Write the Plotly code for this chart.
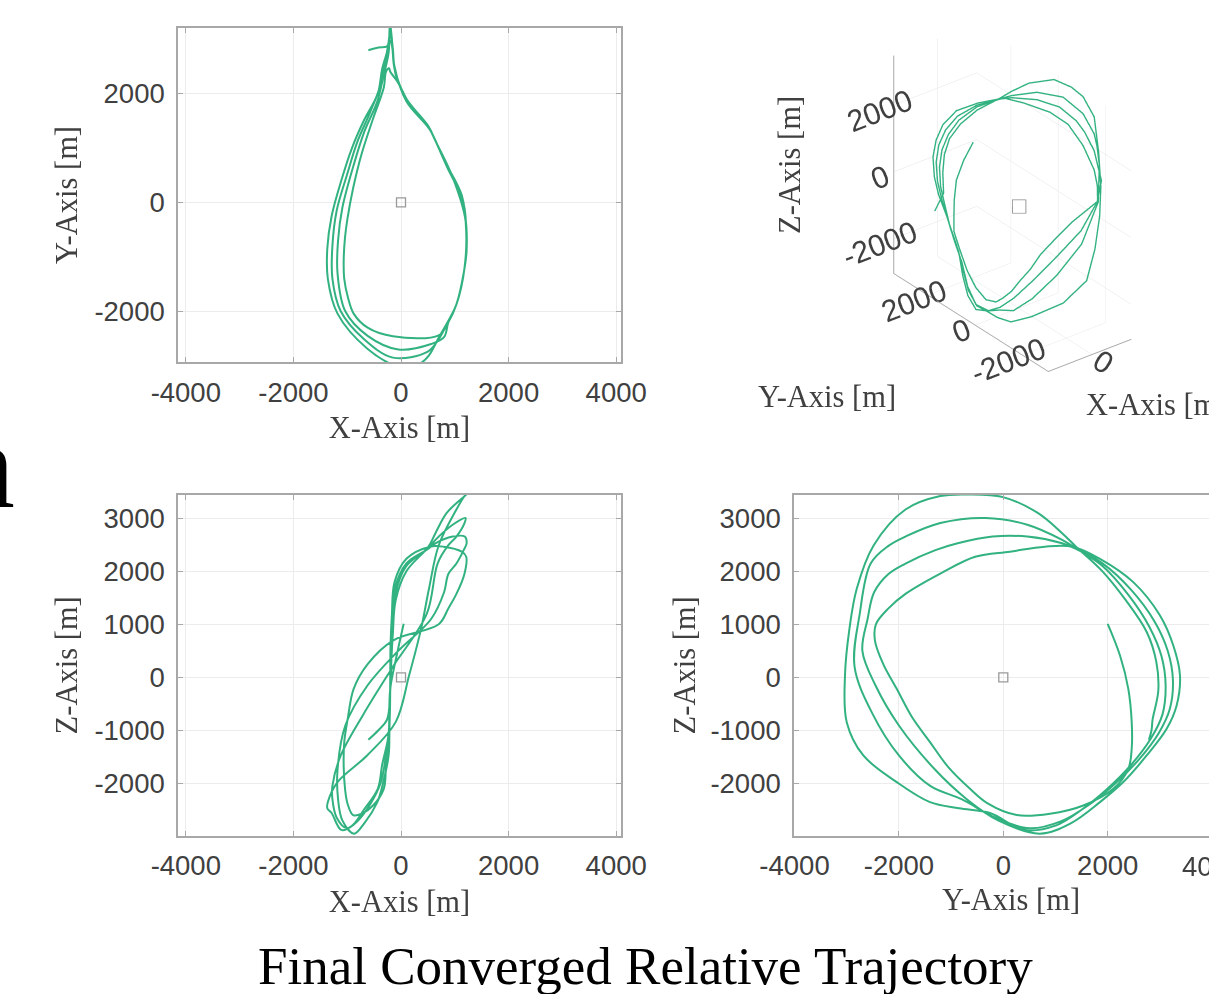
import plotly.graph_objects as go

# Relative trajectory samples (metres), read from the four views
traj_x = [50, -80, -200, -220, -230, -280, -320, -520, -730, -890, -995, -1040, -1065, -1055, -985, -880, -620, -150,
          700, 880, 1030, 1180, 1212, 1130, 790, 540,
          100, -120, -170, -195, -200, -205, -215, -230, -330, -440, -680, -875, -1090, -1170, -1180, -1035, -620, -50,
          560, 800, 880, 1030, 1165, 1220, 1185, 960, 640, 500,
          100, -120, -160, -190, -200, -205, -225, -290, -380, -575, -815, -1005, -1195, -1275, -1275, -1120, -700, -150,
          480, 680, 870, 1030, 1180, 1200, 960, 640, 510,
          100, -110, -150, -180, -200, -210, -240, -350, -430, -690, -910, -1110, -1290, -1370, -1360, -1180, -630, -100,
          150, 370, 520, 700, 1030, 1180, 1215, 1160, 850, 640, 510,
          100, -100, -150, -180, -200, -260, -421, -607]
traj_y = [2000, 2236, 2395, 2460, 2460, 2395, 2107, 1533, 895, 257, -300, -638, -1050, -1404, -1750, -2042, -2300, -2459,
          -2441, -2200, -1874, -1207, -540, 127, 794, 1327,
          1852, 2490, 3002, 3257, 3385, 3321, 3130, 2747, 2299, 1852, 1300, 700, -100, -700, -1300, -2000, -2450, -2700,
          -2600, -2475, -2200, -1874, -1300, -874, -207, 460, 1127, 1400,
          1900, 2450, 2900, 3150, 3250, 3190, 2980, 2600, 2150, 1650, 1100, 500, -150, -800, -1400, -2000, -2500, -2850,
          -2750, -2541, -2200, -1874, -1207, -340, 460, 1127, 1394,
          1900, 2400, 2800, 3030, 3110, 3050, 2830, 2450, 2000, 1500, 1000, 400, -255, -850, -1404, -2042, -2682, -3000,
          -3033, -2950, -2808, -2485, -1874, -1207, -674, -7, 660, 1127, 1394,
          1900, 2350, 2750, 2930, 2970, 2860, 2840, 2790]
traj_z = [1009, 411, -217, -845, -1349, -1726, -2104, -2419, -2575, -2600, -2380, -2104, -1700, -1223, -750, -217, 250, 694,
          1000, 1300, 1573, 1956, 2274, 2370, 2465, 2465,
          2236, 1796, 1166, 600, 34, -532, -972, -1475, -1977, -2355, -2750, -2950, -2700, -2300, -1750, -910, -150, 500,
          1100, 1605, 1950, 2147, 2400, 2529, 2656, 2656, 2529, 2420,
          2150, 1650, 1050, 500, -50, -600, -1050, -1550, -2000, -2400, -2720, -2850, -2650, -2300, -2050, -1475, -700, 200,
          1200, 2147, 2480, 2656, 2911, 3007, 2879, 2593, 2433,
          2100, 1550, 950, 400, -150, -700, -1150, -1650, -2100, -2500, -2800, -2880, -2560, -2470, -2355, -1977, -1475, -846,
          34, 900, 1670, 2487, 3166, 3420, 3450, 3400, 3102, 2720, 2465,
          2000, 1450, 850, 300, -250, -800, -1000, -1180]

target_pos = [0]

h_ticks = [-4000, -2000, 0, 2000, 4000]
h_tick_text = ["-4000", "-2000", "0", "2000", "4000"]
xy_y_ticks = [-2000, 0, 2000]
xy_y_tick_text = ["-2000", "0", "2000"]
z_ticks = [-2000, -1000, 0, 1000, 2000, 3000]
z_tick_text = ["-2000", "-1000", "0", "1000", "2000", "3000"]
s3_ticks = [-2000, 0, 2000]
s3_tick_text = ["-2000", "0", "2000"]
s3_x_ticks = [0]
s3_x_tick_text = ["0"]

GREEN = "rgb(50,178,128)"
AXC = "#a8a8a8"
TXT = "#404040"
TICKFONT = dict(family="Liberation Sans", size=27.5, color=TXT)
TITLEFONT = dict(family="Liberation Serif", size=30.5, color=TXT)

W, H = 1209, 994


def px_x(p):
    return p / W


def px_y(p):
    return 1 - p / H


def ax2d(**kw):
    d = dict(showline=True, linecolor=AXC, linewidth=1.5, mirror="ticks",
             ticks="inside", ticklen=5, tickcolor=AXC, tickwidth=1.2,
             showgrid=True, gridcolor="#ececec", gridwidth=1, zeroline=False,
             tickfont=TICKFONT, title_font=TITLEFONT, automargin=False,
             fixedrange=True)
    d.update(kw)
    return d


fig = go.Figure()

# XY view
fig.add_trace(go.Scatter(x=traj_x, y=traj_y, mode="lines",
                         line=dict(color=GREEN, width=2.0, shape="spline"),
                         xaxis="x", yaxis="y"))
fig.add_trace(go.Scatter(x=target_pos, y=target_pos, mode="markers",
                         marker=dict(symbol="square-open", size=9, color="#9a9a9a",
                                     line=dict(width=1.3)),
                         xaxis="x", yaxis="y"))
# XZ view
fig.add_trace(go.Scatter(x=traj_x, y=traj_z, mode="lines",
                         line=dict(color=GREEN, width=2.0, shape="spline"),
                         xaxis="x2", yaxis="y2"))
fig.add_trace(go.Scatter(x=target_pos, y=target_pos, mode="markers",
                         marker=dict(symbol="square-open", size=9, color="#9a9a9a",
                                     line=dict(width=1.3)),
                         xaxis="x2", yaxis="y2"))
# YZ view
fig.add_trace(go.Scatter(x=traj_y, y=traj_z, mode="lines",
                         line=dict(color=GREEN, width=2.0, shape="spline"),
                         xaxis="x3", yaxis="y3"))
fig.add_trace(go.Scatter(x=target_pos, y=target_pos, mode="markers",
                         marker=dict(symbol="square-open", size=9, color="#9a9a9a",
                                     line=dict(width=1.3)),
                         xaxis="x3", yaxis="y3"))
# 3D view
fig.add_trace(go.Scatter3d(x=traj_x, y=traj_y, z=traj_z, mode="lines",
                           line=dict(color=GREEN, width=2.8), scene="scene"))
fig.add_trace(go.Scatter3d(x=target_pos, y=target_pos, z=target_pos, mode="markers",
                           marker=dict(symbol="square-open", size=6, color="#9a9a9a"),
                           scene="scene"))

ax3 = dict(showbackground=False, gridcolor="#e4e4e4", gridwidth=1, showline=True,
           linecolor=AXC, linewidth=2, zeroline=False, showspikes=False,
           tickfont=dict(family="Liberation Sans", size=19, color=TXT),
           title=dict(text=""))

S3 = 1.27

fig.update_layout(
    width=W, height=H, margin=dict(l=0, r=0, t=0, b=0),
    paper_bgcolor="white", plot_bgcolor="white", showlegend=False,
    xaxis=ax2d(domain=[px_x(178), px_x(621)], range=[-4145, 4089], anchor="y",
               tickvals=h_ticks, ticktext=h_tick_text, ticklabelstandoff=5,
               title=dict(text="X-Axis [m]", standoff=10)),
    yaxis=ax2d(domain=[px_y(362), px_y(28)], range=[-2930, 3198], anchor="x",
               tickvals=xy_y_ticks, ticktext=xy_y_tick_text, ticklabelstandoff=6,
               title=dict(text="Y-Axis [m]", standoff=8)),
    xaxis2=ax2d(domain=[px_x(178), px_x(621)], range=[-4145, 4089], anchor="y2",
                tickvals=h_ticks, ticktext=h_tick_text, ticklabelstandoff=5,
                title=dict(text="X-Axis [m]", standoff=10)),
    yaxis2=ax2d(domain=[px_y(835.7), px_y(495)], range=[-2989, 3440], anchor="x2",
                tickvals=z_ticks, ticktext=z_tick_text, ticklabelstandoff=6,
                title=dict(text="Z-Axis [m]", standoff=8)),
    xaxis3=ax2d(domain=[px_x(794), 1.0], range=[-4010, 3941], anchor="y3",
                tickvals=h_ticks, ticktext=h_tick_text, ticklabelstandoff=5),
    yaxis3=ax2d(domain=[px_y(835.7), px_y(495)], range=[-2989, 3440], anchor="x3",
                mirror=False,
                tickvals=z_ticks, ticktext=z_tick_text, ticklabelstandoff=6,
                title=dict(text="Z-Axis [m]", standoff=6)),
    scene=dict(
        domain=dict(x=[px_x(816), 1.0], y=[px_y(395), 1.0]),
        xaxis=dict(ax3, range=[-1450, 1300], tickvals=s3_x_ticks, ticktext=s3_x_tick_text),
        yaxis=dict(ax3, range=[-3100, 3450], tickvals=s3_ticks, ticktext=s3_tick_text),
        zaxis=dict(ax3, range=[-3050, 3480], tickvals=s3_ticks, ticktext=s3_tick_text),
        aspectmode="manual", aspectratio=dict(x=0.42 * S3, y=1.0 * S3, z=1.0 * S3),
        camera=dict(eye=dict(x=-0.535 * 2.0, y=-0.684 * 2.0, z=0.496 * 2.0),
                    up=dict(x=0, y=0, z=1), center=dict(x=0, y=0, z=0),
                    projection=dict(type="orthographic")),
        bgcolor="white"),
    annotations=[
        dict(text="Y-Axis [m]", xref="paper", yref="paper", x=px_x(1011), y=px_y(900),
             xanchor="center", yanchor="middle", showarrow=False, font=TITLEFONT),
        dict(text="4000", xref="paper", yref="paper", x=px_x(1212), y=px_y(866),
             xanchor="center", yanchor="middle", showarrow=False, font=TICKFONT),
        dict(text="Z-Axis [m]", xref="paper", yref="paper", x=px_x(790), y=px_y(165),
             xanchor="center", yanchor="middle", textangle=-90, showarrow=False,
             font=TITLEFONT),
        dict(text="Y-Axis [m]", xref="paper", yref="paper", x=px_x(827), y=px_y(397),
             xanchor="center", yanchor="middle", showarrow=False, font=TITLEFONT),
        dict(text="X-Axis [m]", xref="paper", yref="paper", x=px_x(1156), y=px_y(405),
             xanchor="center", yanchor="middle", showarrow=False, font=TITLEFONT),
        dict(text="Final Converged Relative Trajectory", xref="paper", yref="paper",
             x=px_x(645), y=px_y(966), xanchor="center", yanchor="middle", showarrow=False,
             font=dict(family="Liberation Serif", size=53, color="black")),
        dict(text="n", xref="paper", yref="paper", x=px_x(17), y=px_y(465),
             xanchor="right", yanchor="middle", showarrow=False,
             font=dict(family="Liberation Serif", size=122, color="black")),
    ],
)

fig.write_html("out.html", config={"displayModeBar": False},
               post_script="document.body.style.margin='0px';"
                           "document.body.style.padding='0px';"
                           "document.body.style.overflow='hidden';")
